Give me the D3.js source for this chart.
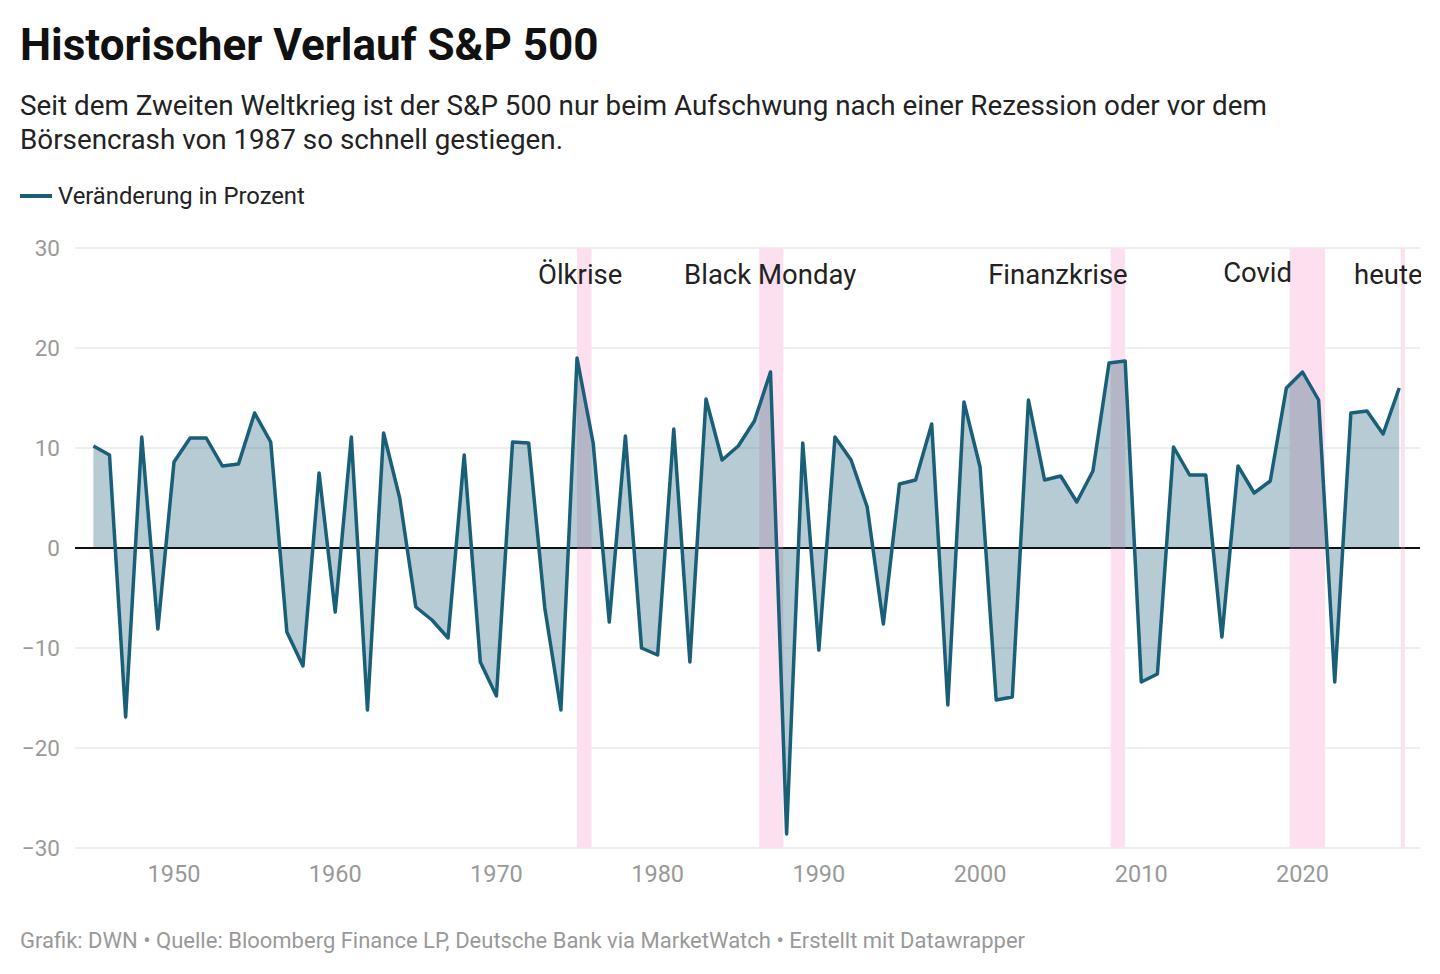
<!DOCTYPE html><html><head><meta charset="utf-8"><script src="https://cdn.jsdelivr.net/npm/d3@7"></script>
<style>body{margin:0;background:#fff;font-family:Roboto,sans-serif}</style></head><body><svg id="c" width="1440" height="974"></svg>
<script>
const years=d3.range(1945,2027);
const values=[10.2,9.3,-16.9,11.1,-8.1,8.6,11,11,8.2,8.4,13.5,10.6,-8.4,-11.8,7.5,-6.4,11.1,-16.2,11.5,5,-5.9,-7.2,-9,9.3,-11.4,-14.8,10.6,10.5,-6,-16.2,19,10.5,-7.4,11.2,-10,-10.7,11.9,-11.4,14.9,8.8,10.2,12.7,17.6,-28.6,10.5,-10.2,11.1,8.8,4.1,-7.6,6.4,6.8,12.4,-15.7,14.6,8.1,-15.2,-14.9,14.8,6.8,7.2,4.6,7.7,18.5,18.7,-13.4,-12.6,10.1,7.3,7.3,-8.9,8.2,5.5,6.7,16,17.6,14.8,-13.4,13.5,13.7,11.4,16];
const bands=[{from:1975,to:1975.9,label:"Ölkrise",lx:1972.58,ly:275},
{from:1986.3,to:1987.8,label:"Black Monday",lx:1981.64,ly:275},
{from:2008.1,to:2009,label:"Finanzkrise",lx:2000.5,ly:275},
{from:2019.2,to:2021.4,label:"Covid",lx:2015.08,ly:273},
{from:2026.1,to:2026.35,label:"heute",lx:2023.2,ly:275}];
const yTicks=[30,20,10,0,-10,-20,-30];
const xTicks=[1950,1960,1970,1980,1990,2000,2010,2020];
const svg=d3.select("#c");
const x=d3.scaleLinear().domain([1950,2020]).range([174,1302.5]);
const y=d3.scaleLinear().domain([-30,30]).range([848,248]);
svg.append("defs").append("clipPath").attr("id","cl").append("rect").attr("x",0).attr("y",0).attr("width",1421).attr("height",974);
svg.append("text").attr("x",20).attr("y",60).attr("font-size",44).attr("font-weight",700).attr("fill","#111").text("Historischer Verlauf S&P 500");
["Seit dem Zweiten Weltkrieg ist der S&P 500 nur beim Aufschwung nach einer Rezession oder vor dem","Börsencrash von 1987 so schnell gestiegen."].forEach((t,i)=>svg.append("text").attr("x",20).attr("y",115+i*34).attr("font-size",27.8).attr("fill","#222").text(t));
svg.append("line").attr("x1",20).attr("x2",52).attr("y1",196).attr("y2",196).attr("stroke","#1b5e75").attr("stroke-width",4);
svg.append("text").attr("x",58).attr("y",204).attr("font-size",23.8).attr("fill","#222").text("Veränderung in Prozent");
const g=svg.append("g");
yTicks.forEach(t=>{g.append("line").attr("x1",75).attr("x2",1420).attr("y1",y(t)).attr("y2",y(t)).attr("stroke",t===0?"#000":"#ddd").attr("stroke-width",t===0?1.5:1);
 g.append("text").attr("x",60).attr("y",y(t)+8).attr("text-anchor","end").attr("font-size",22.5).attr("fill","#999").text(t<0?"\u2212"+(-t):t);});
xTicks.forEach(t=>g.append("text").attr("x",x(t)).attr("y",882).attr("text-anchor","middle").attr("font-size",23.5).attr("fill","#999").text(t));
const bg=svg.append("g").attr("clip-path","url(#cl)");
bands.forEach(b=>{bg.append("rect").attr("x",x(b.from)).attr("width",x(b.to)-x(b.from)).attr("y",248).attr("height",600).attr("fill","#fde0ef");});
const data=years.map((yr,i)=>[yr,values[i]]);
svg.append("path").datum(data).attr("d",d3.area().x(d=>x(d[0])).y0(y(0)).y1(d=>y(d[1]))).attr("fill","#1b5e75").attr("fill-opacity",0.32);
svg.append("line").attr("x1",75).attr("x2",1420).attr("y1",y(0)).attr("y2",y(0)).attr("stroke","#000").attr("stroke-width",1.5);
svg.append("path").datum(data).attr("d",d3.line().x(d=>x(d[0])).y(d=>y(d[1]))).attr("fill","none").attr("stroke","#1a5f78").attr("stroke-width",3.5).attr("stroke-linejoin","round");
bands.forEach(b=>bg.append("text").attr("x",x(b.lx)).attr("y",b.ly+9).attr("font-size",27.5).attr("fill","#222").text(b.label));
svg.append("text").attr("x",20).attr("y",948).attr("font-size",22).attr("fill","#999").text("Grafik: DWN • Quelle: Bloomberg Finance LP, Deutsche Bank via MarketWatch • Erstellt mit Datawrapper");
</script></body></html>
